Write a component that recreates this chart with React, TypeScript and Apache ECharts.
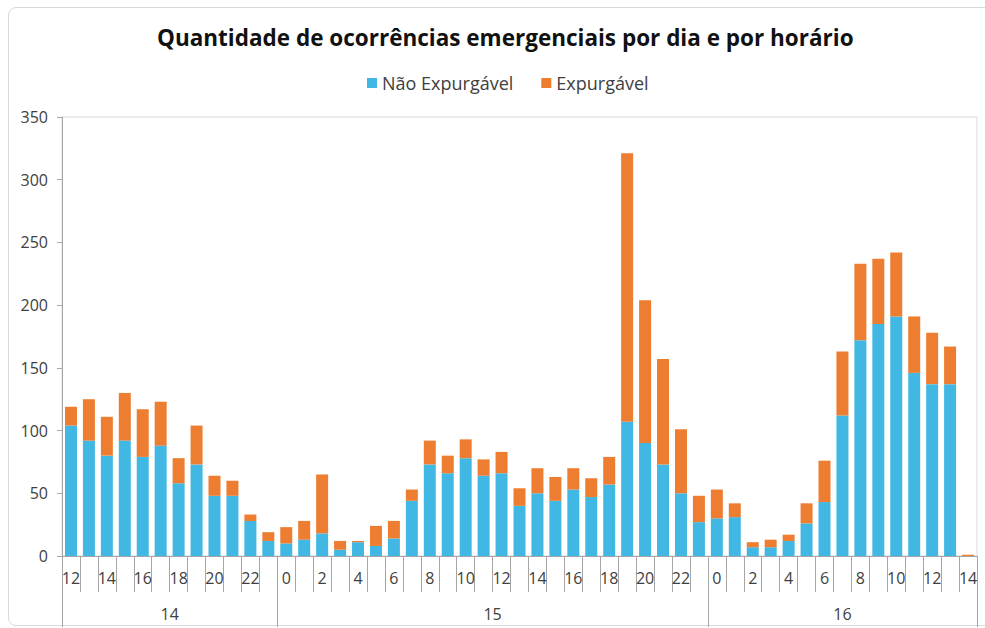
import React, { useEffect, useRef } from "react";
import * as echarts from "echarts";

const days = ["14", "15", "16"];
const hours = [
  "12","13","14","15","16","17","18","19","20","21","22","23",
  "0","1","2","3","4","5","6","7","8","9","10","11","12","13","14","15","16","17","18","19","20","21","22","23",
  "0","1","2","3","4","5","6","7","8","9","10","11","12","13","14",
];
const hoursPerDay = [12, 24, 15];
const naoExpurgavel = [
  104, 92, 80, 92, 79, 88, 58, 73, 48, 48, 28, 12,
  10, 13, 18, 5, 11, 8, 14, 44, 73, 66, 78, 64, 66, 40, 50, 44, 53, 47, 57, 107, 90, 73, 50, 27,
  30, 31, 7, 7, 12, 26, 43, 112, 172, 185, 191, 146, 137, 137, 0,
];
const expurgavel = [
  15, 33, 31, 38, 38, 35, 20, 31, 16, 12, 5, 7,
  13, 15, 47, 7, 1, 16, 14, 9, 19, 14, 15, 13, 17, 14, 20, 19, 17, 15, 22, 214, 114, 84, 51, 21,
  23, 11, 4, 6, 5, 16, 33, 51, 61, 52, 51, 45, 41, 30, 1,
];
const yTicks = { min: 0, max: 350, interval: 50 };

export default function App() {
  const ref = useRef<HTMLDivElement>(null);
  useEffect(() => {
    if (!ref.current) return;
    const chart = echarts.init(ref.current, null, { renderer: "svg" });
    const boundaries: number[] = [0];
    const centers: number[] = [];
    hoursPerDay.forEach((n, i) => {
      const start = boundaries[i];
      boundaries.push(start + n);
      centers.push(start + n / 2);
    });
    const font = "'Open Sans', 'Noto Sans', sans-serif";
    const axisColor = "#a6a6a6";
    const textColor = "#404040";
    chart.setOption({
      animation: false,
      textStyle: { fontFamily: font },
      title: {
        text: "Quantidade de ocorrências emergenciais por dia e por horário",
        left: 152,
        top: 21,
        textStyle: { fontSize: 22.5, fontWeight: "bold", color: "#111", fontFamily: font },
      },
      legend: {
        top: 69,
        left: 362,
        itemWidth: 10,
        itemHeight: 10,
        itemGap: 28,
        icon: "rect",
        textStyle: { fontSize: 18, color: textColor, fontFamily: font },
        data: ["Não Expurgável", "Expurgável"],
      },
      grid: {
        left: 62,
        right: 8,
        top: 117,
        bottom: 72,
        show: true,
        borderColor: "#d9d9d9",
        borderWidth: 1,
        containLabel: false,
      },
      xAxis: [
        {
          type: "category",
          data: hours,
          position: "bottom",
          axisLine: { show: true, lineStyle: { color: axisColor, width: 1 } },
          axisTick: { show: true, interval: 0, length: 36, alignWithLabel: false, lineStyle: { color: axisColor } },
          axisLabel: { interval: 1, margin: 14, fontSize: 16, color: textColor, fontFamily: font },
          splitLine: { show: false },
        },
        {
          type: "value",
          min: 0,
          max: hours.length,
          position: "bottom",
          offset: 0,
          axisLine: { show: false },
          splitLine: { show: false },
          axisTick: { show: true, customValues: boundaries, length: 71, lineStyle: { color: axisColor } },
          axisLabel: {
            customValues: centers,
            margin: 50,
            fontSize: 16,
            color: textColor,
            fontFamily: font,
            formatter: (v: number) => {
              const i = centers.findIndex((c) => Math.abs(c - v) < 1e-6);
              return i >= 0 ? days[i] : "";
            },
          },
        },
      ],
      yAxis: {
        type: "value",
        min: yTicks.min,
        max: yTicks.max,
        interval: yTicks.interval,
        axisLine: { show: true, lineStyle: { color: axisColor } },
        axisTick: { show: true, length: 5, lineStyle: { color: axisColor } },
        axisLabel: { margin: 14, fontSize: 16, color: textColor, fontFamily: font },
        splitLine: { show: false },
      },
      series: [
        {
          name: "Não Expurgável",
          type: "bar",
          stack: "total",
          xAxisIndex: 0,
          barWidth: 12,
          itemStyle: { color: "#41B8E4" },
          data: naoExpurgavel,
        },
        {
          name: "Expurgável",
          type: "bar",
          stack: "total",
          xAxisIndex: 0,
          barWidth: 12,
          itemStyle: { color: "#ED7D31" },
          data: expurgavel,
        },
      ],
    });
    return () => chart.dispose();
  }, []);
  return (
    <div style={{ position: "fixed", left: 0, top: 0, width: 985, height: 628, overflow: "hidden", background: "#fff" }}>
      <div
        style={{
          position: "absolute",
          left: 8,
          top: 7,
          width: 1000,
          height: 619,
          border: "1px solid #d9d9d9",
          borderRadius: 8,
          boxSizing: "border-box",
        }}
      />
      <div ref={ref} style={{ position: "absolute", left: 0, top: 0, width: 985, height: 628 }} />
    </div>
  );
}
